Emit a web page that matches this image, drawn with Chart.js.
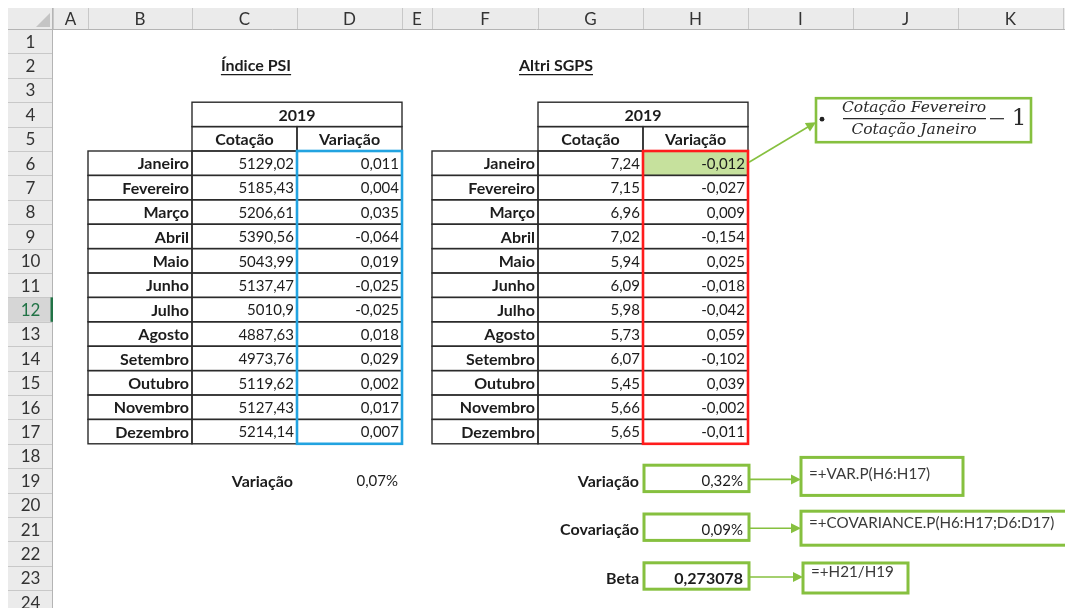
<!DOCTYPE html>
<html lang="pt">
<head>
<meta charset="utf-8">
<title>Beta - Altri SGPS vs Índice PSI</title>
<script src="https://cdn.jsdelivr.net/npm/chart.js@4.4.1/dist/chart.umd.min.js"></script>
<style>
  html, body { margin: 0; padding: 0; background: #fff; }
  #folha { display: block; }
</style>
</head>
<body>
<canvas id="folha" width="1065" height="608"></canvas>
<script>
// === DADOS ===
const colunas = ['A', 'B', 'C', 'D', 'E', 'F', 'G', 'H', 'I', 'J', 'K'];
const meses = ['Janeiro', 'Fevereiro', 'Março', 'Abril', 'Maio', 'Junho', 'Julho',
  'Agosto', 'Setembro', 'Outubro', 'Novembro', 'Dezembro'];
const psiCotacao = [5129.02, 5185.43, 5206.61, 5390.56, 5043.99, 5137.47, 5010.9,
  4887.63, 4973.76, 5119.62, 5127.43, 5214.14];
const psiVariacao = [0.011, 0.004, 0.035, -0.064, 0.019, -0.025, -0.025,
  0.018, 0.029, 0.002, 0.017, 0.007];
const altriCotacao = [7.24, 7.15, 6.96, 7.02, 5.94, 6.09, 5.98, 5.73, 6.07, 5.45, 5.66, 5.65];
const altriVariacao = [-0.012, -0.027, 0.009, -0.154, 0.025, -0.018, -0.042,
  0.059, -0.102, 0.039, -0.002, -0.011];
const psiVariacaoAnual = 0.0007;
const resumoRotulos = ['Variação', 'Covariação', 'Beta'];
const resumoValores = [0.0032, 0.0009, 0.273078];
const resumoFormulas = ['=+VAR.P(H6:H17)', '=+COVARIANCE.P(H6:H17;D6:D17)', '=+H21/H19'];

// === LAYOUT (larghezze colonne in px, righe uniformi) ===
const larguras = [35, 104, 105, 105, 30, 106, 105, 105, 105, 105, 105];
const N_LINHAS = 24;
const VERDE = '#86c03f';
const TEXTO = '#1c1c1c';
const FONTE = 'Lato, "Open Sans", sans-serif';

const num = (v) => String(v).replace('.', ',');
const var3 = (v) => v.toFixed(3).replace('.', ',');
const pct = (v) => (v * 100).toFixed(2).replace('.', ',') + '%';

const folhaPlugin = {
  id: 'folha',
  afterDraw(chart) {
    const ctx = chart.ctx;
    const x = chart.scales.x, y = chart.scales.y;
    const inicio = [];
    larguras.reduce((acc, w, i) => { inicio[i] = acc; return acc + w; }, 0);
    const xL = (c) => x.getPixelForValue(inicio[c]);
    const xR = (c) => x.getPixelForValue(inicio[c] + larguras[c]);
    const yT = (r) => y.getPixelForValue(r - 1);
    const yB = (r) => y.getPixelForValue(r);
    const yM = (r) => (yT(r) + yB(r)) / 2;
    const topo = chart.chartArea.top;
    const esq = chart.chartArea.left;

    const texto = (s, px, py, align, font, cor) => {
      ctx.font = font;
      ctx.fillStyle = cor || TEXTO;
      ctx.textAlign = align;
      ctx.textBaseline = 'middle';
      ctx.fillText(s, px, py);
    };
    const reg = '15px ' + FONTE;
    const bold = 'bold 16px ' + FONTE;
    const caixa = (x1, y1, x2, y2, cor, lw) => {
      ctx.strokeStyle = cor; ctx.lineWidth = lw;
      ctx.strokeRect(x1, y1, x2 - x1, y2 - y1);
    };
    const celula = (c, r) => caixa(xL(c), yT(r), xR(c), yB(r), '#2b2b2b', 1.4);
    const seta = (x1, y1, x2, y2) => {
      const a = Math.atan2(y2 - y1, x2 - x1);
      ctx.strokeStyle = VERDE; ctx.fillStyle = VERDE; ctx.lineWidth = 1.6;
      ctx.beginPath(); ctx.moveTo(x1, y1);
      ctx.lineTo(x2 - 8 * Math.cos(a), y2 - 8 * Math.sin(a)); ctx.stroke();
      ctx.beginPath(); ctx.moveTo(x2, y2);
      ctx.lineTo(x2 - 10 * Math.cos(a) + 5 * Math.sin(a), y2 - 10 * Math.sin(a) - 5 * Math.cos(a));
      ctx.lineTo(x2 - 10 * Math.cos(a) - 5 * Math.sin(a), y2 - 10 * Math.sin(a) + 5 * Math.cos(a));
      ctx.closePath(); ctx.fill();
    };

    ctx.save();

    // === intestazioni di colonna e di riga ===
    ctx.fillStyle = '#ebebeb';
    ctx.fillRect(8, 8, chart.width - 8, topo - 8);
    ctx.fillRect(8, topo, esq - 8, chart.height - topo);
    ctx.fillStyle = '#d6d6d6';
    ctx.fillRect(8, yT(12), esq - 8, yB(12) - yT(12));
    ctx.strokeStyle = '#c8c8c8'; ctx.lineWidth = 1;
    ctx.beginPath();
    for (let c = 0; c <= colunas.length; c++) {
      const px = c < colunas.length ? xL(c) : xR(c - 1);
      ctx.moveTo(Math.round(px) + 0.5, 8); ctx.lineTo(Math.round(px) + 0.5, topo);
    }
    for (let r = 1; r <= N_LINHAS; r++) {
      ctx.moveTo(8, Math.round(yB(r)) + 0.5); ctx.lineTo(esq, Math.round(yB(r)) + 0.5);
    }
    ctx.stroke();
    ctx.strokeStyle = '#b4b4b4';
    ctx.beginPath();
    ctx.moveTo(8, topo + 0.5); ctx.lineTo(chart.width, topo + 0.5);
    ctx.moveTo(esq - 0.5, 8); ctx.lineTo(esq - 0.5, chart.height);
    ctx.stroke();
    ctx.fillStyle = '#c4c4c4';
    ctx.beginPath(); ctx.moveTo(50, 13); ctx.lineTo(50, 27); ctx.lineTo(36, 27); ctx.closePath(); ctx.fill();
    ctx.fillStyle = '#217346';
    ctx.fillRect(esq - 2.5, yT(12), 2.5, yB(12) - yT(12));

    colunas.forEach((l, c) => texto(l, (xL(c) + xR(c)) / 2, (8 + topo) / 2 + 1, 'center', '17px ' + FONTE, '#333'));
    for (let r = 1; r <= N_LINHAS; r++) {
      texto(String(r), (8 + esq) / 2, yM(r) + 1, 'center', '17px ' + FONTE, r === 12 ? '#217346' : '#333');
    }

    // === tabelle ===
    const tabela = (cM, titulo, tituloX, cot, vari, fmtCot, corVar) => {
      const cC = cM + 1, cV = cM + 2;
      // titolo sottolineato
      ctx.font = bold;
      const w = ctx.measureText(titulo).width;
      texto(titulo, tituloX, yM(2), 'center', bold);
      ctx.strokeStyle = TEXTO; ctx.lineWidth = 1.2;
      ctx.beginPath(); ctx.moveTo(tituloX - w / 2, yM(2) + 9); ctx.lineTo(tituloX + w / 2, yM(2) + 9); ctx.stroke();

      caixa(xL(cC), yT(4), xR(cV), yB(4), '#2b2b2b', 1.4);
      texto('2019', (xL(cC) + xR(cV)) / 2, yM(4) + 1, 'center', bold);
      celula(cC, 5); celula(cV, 5);
      texto('Cotação', (xL(cC) + xR(cC)) / 2, yM(5) + 1, 'center', bold);
      texto('Variação', (xL(cV) + xR(cV)) / 2, yM(5) + 1, 'center', bold);

      meses.forEach((m, i) => {
        const r = 6 + i;
        if (cV === 7 && i === 0) {
          ctx.fillStyle = '#c6e19d';
          ctx.fillRect(xL(cV), yT(r), xR(cV) - xL(cV), yB(r) - yT(r));
        }
        celula(cM, r); celula(cC, r); celula(cV, r);
        texto(m, xR(cM) - 3, yM(r) + 1, 'right', bold);
        texto(fmtCot(cot[i]), xR(cC) - 3, yM(r) + 1, 'right', reg);
        texto(var3(vari[i]), xR(cV) - 3, yM(r) + 1, 'right', reg);
      });
      caixa(xL(cV), yT(6), xR(cV), yB(17), corVar, 2.6);
    };
    tabela(1, 'Índice PSI', 256, psiCotacao, psiVariacao, num, '#22a3e0');
    tabela(5, 'Altri SGPS', 556, altriCotacao, altriVariacao, (v) => v.toFixed(2).replace('.', ','), '#ff1c1c');

    texto('Variação', xR(2) - 4, yM(19) + 1, 'right', bold);
    texto(pct(psiVariacaoAnual), xR(3) - 4, yM(19) + 1, 'right', reg);

    // === riepilogo Altri ===
    const caixasFormula = [
      { x2: xR(8) + 110, up: 23, down: 15 },
      { x2: chart.width + 2, up: 18, down: 16 },
      { x2: xR(8) + 55, up: 15, down: 15 }
    ];
    resumoRotulos.forEach((rot, i) => {
      const r = 19 + i * 2;
      const cy = yM(r);
      texto(rot, xR(6) - 4, cy + 1, 'right', bold);
      const val = i < 2 ? pct(resumoValores[i]) : num(resumoValores[i]);
      texto(val, xR(7) - 5, cy + 1, 'right', i === 2 ? bold : reg);
      caixa(xL(7) + 1, yT(r) - 3, xR(7) + 1, yB(r) - 1, VERDE, 3);
      const f = caixasFormula[i];
      const bx = xL(8) + 53 + (i === 2 ? 2 : 0);
      seta(xR(7) + 2, cy - 1, bx, cy - 1);
      caixa(bx, cy - f.up, f.x2, cy + f.down, VERDE, 3);
      texto(resumoFormulas[i], bx + 8, cy - 6, 'left', '15.2px ' + FONTE, '#3a3a3a');
    });

    // === formula della variazione ===
    const fx1 = xL(8) + 68, fx2 = xL(10) + 73;
    const fy1 = yT(4) - 4, fy2 = yT(4) + 40;
    seta(xR(7) + 1, yM(6) - 1, fx1, fy1 + 24);
    caixa(fx1, fy1, fx2, fy2, VERDE, 2.6);
    ctx.fillStyle = '#222';
    ctx.beginPath(); ctx.arc(fx1 + 6, fy1 + 21, 2.4, 0, Math.PI * 2); ctx.fill();
    const fc = 914;
    const serif = 'italic 15.5px "DejaVu Serif", serif';
    texto('Cotação Fevereiro', fc, fy1 + 10, 'center', serif, '#2a2a2a');
    ctx.strokeStyle = '#2a2a2a'; ctx.lineWidth = 1.2;
    ctx.beginPath(); ctx.moveTo(843, fy1 + 20.5); ctx.lineTo(986, fy1 + 20.5); ctx.stroke();
    texto('Cotação Janeiro', fc, fy1 + 32, 'center', serif, '#2a2a2a');
    ctx.beginPath(); ctx.moveTo(990, fy1 + 20.5); ctx.lineTo(1004, fy1 + 20.5); ctx.stroke();
    texto('1', 1019, fy1 + 21, 'center', '23px "DejaVu Serif", serif', '#2a2a2a');

    ctx.restore();
  }
};

new Chart(document.getElementById('folha'), {
  type: 'scatter',
  data: { datasets: [] },
  options: {
    responsive: false,
    animation: false,
    layout: { padding: { left: 53, right: 2, top: 29, bottom: 0 } },
    plugins: { legend: { display: false }, tooltip: { enabled: false } },
    scales: {
      x: { type: 'linear', display: false, min: 0, max: larguras.reduce((a, b) => a + b, 0) },
      y: { type: 'linear', display: false, min: 0, max: (608 - 29) / 24.4, reverse: true }
    }
  },
  plugins: [folhaPlugin]
});
</script>
</body>
</html>
